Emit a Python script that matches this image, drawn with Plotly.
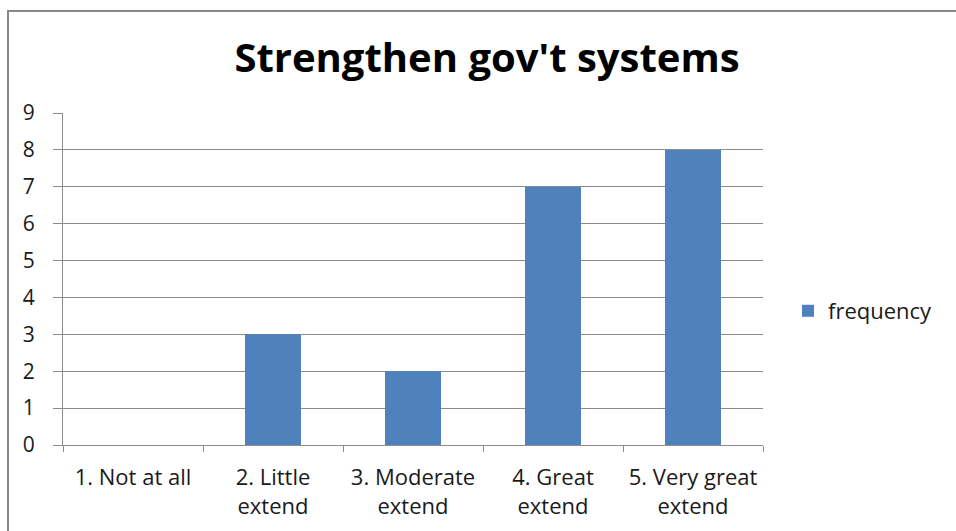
import plotly.graph_objects as go

categories = ["1. Not at all", "2. Little<br>extend", "3. Moderate<br>extend",
              "4. Great<br>extend", "5. Very great<br>extend"]
frequency = [0, 3, 2, 7, 8]
y_ticks = list(range(0, 10))

W, H = 956, 531
ML, MR, MT, MB = 63, 193, 113, 86
PW, PH = W - ML - MR, H - MT - MB

grid = "#8c8c8c"
font_main = "'Open Sans', Lato, sans-serif"
text_col = "#1a1a1a"

fig = go.Figure(go.Bar(
    x=categories, y=frequency, name="frequency",
    marker=dict(color="#4F81BD", line=dict(width=0)),
))

# outer chart frame
fig.add_shape(type="rect", xref="paper", yref="paper",
              x0=(8 - ML) / PW, x1=(W + 5 - ML) / PW,
              y0=-(H + 5 - MT - PH) / PH, y1=(H - 11 - MB) / PH,
              line=dict(color="#888888", width=2), fillcolor="rgba(0,0,0,0)",
              layer="below")

fig.update_layout(
    width=W, height=H,
    margin=dict(l=ML, r=MR, t=MT, b=MB),
    paper_bgcolor="white", plot_bgcolor="white",
    title=dict(text="<b>Strengthen gov't systems</b>", x=(487 - ML) / PW, xref="paper",
               xanchor="center", y=1 - 58 / H, yanchor="middle",
               font=dict(family=font_main, size=40, color="black")),
    bargap=0.6,
    showlegend=True,
    legend=dict(x=(788 - ML) / PW, xanchor="left", y=(445 - 311) / PH, yanchor="middle",
                font=dict(family=font_main, size=22, color=text_col),
                bgcolor="rgba(0,0,0,0)", itemwidth=30),
    font=dict(family=font_main, size=21, color=text_col),
)

fig.update_xaxes(
    type="category", tickson="boundaries", ticks="outside", ticklen=6,
    tickcolor=grid, showline=True, linecolor=grid, linewidth=1,
    showgrid=False, tickfont=dict(size=22, color=text_col), ticklabelstandoff=13,
)
fig.update_yaxes(
    range=[0, 9], tickvals=y_ticks, ticks="outside", ticklen=9, tickcolor=grid,
    showline=True, linecolor=grid, linewidth=1,
    showgrid=True, gridcolor=grid, gridwidth=1, zeroline=False,
    tickfont=dict(size=21, color=text_col), ticklabelstandoff=14,
)

fig.write_html("out.html")
